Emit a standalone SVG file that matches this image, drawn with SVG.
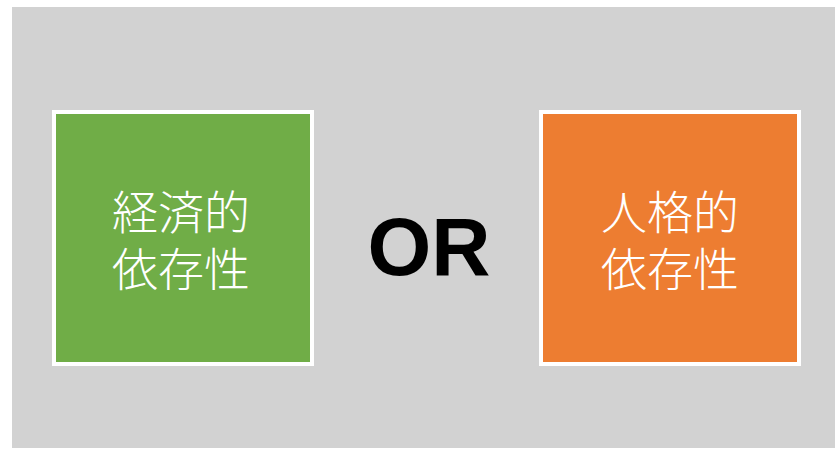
<svg xmlns="http://www.w3.org/2000/svg" width="835" height="449" viewBox="0 0 835 449">
<style>
.box{stroke:#FFFFFF;stroke-width:4}
.jp{font-family:"Noto Sans CJK JP","Noto Sans CJK SC",sans-serif;font-weight:300;font-size:46px;fill:#FFFFFF;text-anchor:middle}
.or{font-family:"Liberation Sans",Arial,sans-serif;font-weight:bold;font-size:82px;fill:#000000;text-anchor:middle}
</style>
<rect x="0" y="0" width="835" height="449" fill="#FFFFFF"/>
<rect x="12" y="7" width="823" height="441" fill="#D2D2D2"/>
<g id="node-economic">
<rect class="box" x="54" y="112" width="258" height="252" fill="#70AD47"/>
<text class="jp" x="181" y="229">経済的</text>
<text class="jp" x="181" y="286">依存性</text>
</g>
<g id="node-or">
<text class="or" x="429" y="275">OR</text>
</g>
<g id="node-personal">
<rect class="box" x="541" y="112" width="258" height="252" fill="#ED7D31"/>
<text class="jp" x="670" y="229">人格的</text>
<text class="jp" x="670" y="286">依存性</text>
</g>
<g id="connectors"></g>
</svg>
